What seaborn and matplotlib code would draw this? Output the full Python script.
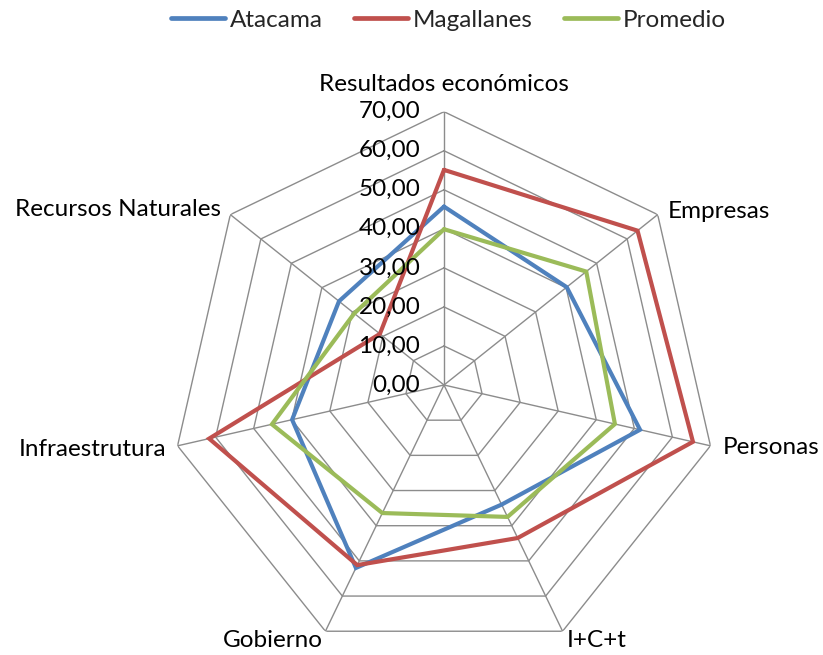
import numpy as np
import pandas as pd
import matplotlib
matplotlib.use("Agg")
import matplotlib.pyplot as plt
from matplotlib.lines import Line2D
import seaborn as sns

# Data
categorias = ["Resultados económicos", "Empresas", "Personas", "I+C+t",
              "Gobierno", "Infraestrutura", "Recursos Naturales"]
atacama = [45.7, 40.2, 51.5, 34.0, 52.0, 39.9, 34.4]
magallanes = [55.1, 63.4, 65.4, 43.5, 51.2, 61.7, 21.0]
promedio = [39.9, 46.6, 44.9, 37.5, 36.4, 45.2, 29.4]
series = ["Atacama", "Magallanes", "Promedio"]
niveles = [0, 10, 20, 30, 40, 50, 60, 70]
etiquetas_niveles = ["0,00", "10,00", "20,00", "30,00", "40,00", "50,00", "60,00", "70,00"]

colores = {"Atacama": "#4F81BD", "Magallanes": "#C0504D", "Promedio": "#9BBB59"}

sns.set_style("white")
plt.rcParams['font.family'] = ['Lato', 'DejaVu Sans']
fs = 17.5

n = len(categorias)
theta = np.linspace(0, 2 * np.pi, n, endpoint=False)
theta_cerrado = np.append(theta, 2 * np.pi)

# long table, closing each polygon
filas = []
for nombre, vals in zip(series, [atacama, magallanes, promedio]):
    for t, v in zip(theta_cerrado, vals + [vals[0]]):
        filas.append({"theta": t, "valor": v, "serie": nombre})
df = pd.DataFrame(filas)

fig = plt.figure(figsize=(8.23, 6.55), dpi=100)
R = 273.3
ax = fig.add_axes([(444 - R) / 823, (270 - R) / 655, 2 * R / 823, 2 * R / 655],
                  projection="polar")
ax.set_theta_offset(np.pi / 2)
ax.set_theta_direction(-1)
ax.set_ylim(0, 70)
ax.grid(False)
ax.spines["polar"].set_visible(False)
ax.set_xticks([])
ax.set_yticks([])
ax.patch.set_alpha(0)

# polygon grid
gris = "#8C8C8C"
for nv in niveles[1:]:
    ax.plot(theta_cerrado, [nv] * (n + 1), color=gris, lw=1.0, zorder=1)
for t in theta:
    ax.plot([t, t], [0, 70], color=gris, lw=1.0, zorder=1)

sns.lineplot(data=df, x="theta", y="valor", hue="serie", palette=colores,
             estimator=None, sort=False, linewidth=3.0, legend=False, ax=ax)
ax.set_xlabel("")
ax.set_ylabel("")
for ln in ax.lines[-3:]:
    ln.set_zorder(3)
    ln.set_solid_joinstyle("miter")

# radial labels
for nv, lab in zip(niveles, etiquetas_niveles):
    ax.annotate(lab, xy=(0, nv), xytext=(-17, 0), textcoords="offset points",
                ha="right", va="center", fontsize=fs, color="black")

# category labels
ajustes = [
    ((0, 12), "center", "bottom"),
    ((7, 2), "left", "center"),
    ((9, -1), "left", "center"),
    ((3, 1), "left", "top"),
    ((-2, 1), "right", "top"),
    ((-8, -3), "right", "center"),
    ((-7, 4), "right", "center"),
]
for t, cat, (off, ha, va) in zip(theta, categorias, ajustes):
    ax.annotate(cat, xy=(t, 70), xytext=off, textcoords="offset points",
                ha=ha, va=va, fontsize=fs, color="black", annotation_clip=False)

handles = [Line2D([0], [0], color=colores[s], lw=3.4, solid_capstyle="round") for s in series]
fig.legend(handles, series, loc="center", bbox_to_anchor=(0.545, 0.969), ncol=3,
           frameon=False, fontsize=fs, handlelength=2.2, handletextpad=0.2,
           columnspacing=1.3)

fig.savefig("out.png", dpi=100)
